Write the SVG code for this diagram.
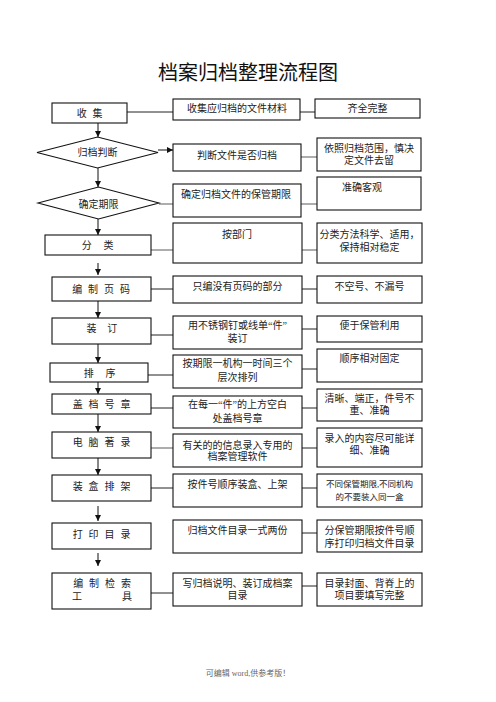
<svg xmlns="http://www.w3.org/2000/svg" width="496" height="702" viewBox="0 0 496 702">
<defs>
<marker id="ah" viewBox="0 0 6 6" refX="6" refY="3" markerWidth="6" markerHeight="6" orient="auto" markerUnits="userSpaceOnUse">
<path d="M0,0 L6,3 L0,6 Z" fill="#111"/>
</marker>
</defs>
<style>
text{font-family:"Liberation Serif","Noto Sans CJK SC",serif;fill:#222;text-anchor:middle}
.t{font-size:10px}
.s{font-size:8.5px}
.title{font-size:20px;fill:#111}
.lb{font-size:10px}
.box{fill:#fff;stroke:#111;stroke-width:1.1}
.ln{stroke:#222;stroke-width:1;fill:none}
.gr{stroke:#777;stroke-width:1.2;fill:none}
.ar{stroke:#111;stroke-width:1;fill:none;marker-end:url(#ah)}
.ft{font-size:8px;fill:#666}
</style>
<rect width="496" height="702" fill="#fff"/>
<text class="title" x="248" y="80">档案归档整理流程图</text>

<g id="connectors">
<line class="ar" x1="98" y1="123" x2="98" y2="137"/>
<line class="ar" x1="98" y1="168" x2="98" y2="187"/>
<line class="ar" x1="98" y1="219" x2="98" y2="235"/>
<line class="ar" x1="98" y1="263" x2="98" y2="275"/>
<line class="ar" x1="98" y1="301" x2="98" y2="318"/>
<line class="ar" x1="98" y1="344" x2="98" y2="363"/>
<line class="ar" x1="98" y1="382" x2="98" y2="394"/>
<line class="ar" x1="98" y1="414" x2="98" y2="432"/>
<line class="ar" x1="98" y1="458" x2="98" y2="475"/>
<line class="ar" x1="98" y1="506" x2="98" y2="521"/>
<line class="ar" x1="98" y1="553" x2="98" y2="566"/>
<line class="ar" x1="158" y1="150" x2="173" y2="150"/>
<line class="ln" x1="127" y1="112" x2="173" y2="112"/>
<line class="ln" x1="300" y1="112" x2="315" y2="112"/>
<line class="gr" x1="301" y1="157" x2="317" y2="157"/>
<line class="gr" x1="159" y1="204" x2="173" y2="204"/>
<line class="gr" x1="301" y1="204" x2="317" y2="204"/>
<line class="gr" x1="151" y1="250" x2="173" y2="250"/>
<line class="gr" x1="302" y1="250" x2="317" y2="250"/>
<line class="ln" x1="151" y1="289" x2="173" y2="289"/>
<line class="ln" x1="302" y1="289" x2="317" y2="289"/>
<line class="ln" x1="151" y1="335" x2="173" y2="335"/>
<line class="ln" x1="302" y1="329" x2="317" y2="329"/>
<line class="ln" x1="148" y1="375" x2="173" y2="375"/>
<line class="ln" x1="302" y1="369" x2="317" y2="369"/>
<line class="ln" x1="151" y1="408" x2="173" y2="408"/>
<line class="ln" x1="302" y1="408" x2="317" y2="408"/>
<line class="gr" x1="151" y1="448" x2="173" y2="448" stroke-width="2"/>
<line class="ln" x1="302" y1="448" x2="317" y2="448"/>
<line class="ln" x1="151" y1="488" x2="173" y2="488"/>
<line class="ln" x1="302" y1="488" x2="317" y2="488"/>
<line class="ln" x1="302" y1="533" x2="317" y2="533"/>
<line class="ln" x1="151" y1="593" x2="173" y2="593"/>
<line class="ln" x1="302" y1="586" x2="317" y2="586"/>
</g>

<g id="n1"><rect class="box" x="52" y="103" width="75" height="20"/><text class="lb" x="90.5" y="116.5" letter-spacing="1.75">收 集</text></g>
<g id="n1b"><rect class="box" x="173" y="99" width="127" height="21"/><text class="t" x="237" y="111.8">收集应归档的文件材料</text></g>
<g id="n1c"><rect class="box" x="315" y="99" width="105" height="19"/><text class="t" x="367.5" y="111.8">齐全完整</text></g>

<g id="n2"><polygon class="box" points="37,152.5 97.5,137 158,152.5 97.5,168"/><text class="t" x="97.5" y="156">归档判断</text></g>
<g id="n2b"><rect class="box" x="173" y="144" width="128" height="27"/><text class="t" x="237" y="158.8">判断文件是否归档</text></g>
<g id="n2c"><rect class="box" x="317" y="138" width="104" height="33"/><text class="t" x="369" y="151.8">依照归档范围，慎决</text><text class="t" x="369" y="163.8">定文件去留</text></g>

<g id="n3"><polygon class="box" points="38,203 98.5,187 159,203 98.5,219"/><text class="t" x="98.5" y="207.5">确定期限</text></g>
<g id="n3b"><rect class="box" x="173" y="184" width="128" height="33"/><text class="t" x="236" y="197.8">确定归档文件的保管期限</text></g>
<g id="n3c"><rect class="box" x="317" y="177" width="104" height="33"/><text class="t" x="362" y="190.8">准确客观</text></g>

<g id="n4"><rect class="box" x="45" y="235" width="106" height="20"/><text class="lb" x="100" y="248.5" letter-spacing="4.75">分 类</text></g>
<g id="n4b"><rect class="box" x="173" y="223" width="129" height="40"/><text class="t" x="237" y="237.8">按部门</text></g>
<g id="n4c"><rect class="box" x="317" y="223" width="105" height="40"/><text class="t" x="369.5" y="237.8">分类方法科学、适用，</text><text class="t" x="369.5" y="250.8">保持相对稳定</text></g>

<g id="n5"><rect class="box" x="52" y="277" width="99" height="24"/><text class="lb" x="102" y="292.5" letter-spacing="1.75">编 制 页 码</text></g>
<g id="n5b"><rect class="box" x="173" y="276" width="129" height="27"/><text class="t" x="237.5" y="289.8">只编没有页码的部分</text></g>
<g id="n5c"><rect class="box" x="317" y="276" width="105" height="27"/><text class="t" x="369.5" y="289.8">不空号、不漏号</text></g>

<g id="n6"><rect class="box" x="52" y="318" width="99" height="26"/><text class="lb" x="104" y="331.5" letter-spacing="4.25">装 订</text></g>
<g id="n6b"><rect class="box" x="173" y="316" width="129" height="33"/><text class="t" x="237.5" y="328.8">用不锈钢钉或线单“件”</text><text class="t" x="237.5" y="341.8">装订</text></g>
<g id="n6c"><rect class="box" x="317" y="316" width="105" height="26"/><text class="t" x="369.5" y="328.8">便于保管利用</text></g>

<g id="n7"><rect class="box" x="50" y="363" width="98" height="19"/><text class="lb" x="102" y="376.5" letter-spacing="4.75">排 序</text></g>
<g id="n7b"><rect class="box" x="173" y="355" width="129" height="33"/><text class="t" x="237.5" y="366.8">按期限一机构一时间三个</text><text class="t" x="237.5" y="380.8">层次排列</text></g>
<g id="n7c"><rect class="box" x="317" y="349" width="105" height="33"/><text class="t" x="369.5" y="361.8">顺序相对固定</text></g>

<g id="n8"><rect class="box" x="52" y="394" width="99" height="20"/><text class="lb" x="102.5" y="407.5" letter-spacing="1.75">盖 档 号 章</text></g>
<g id="n8b"><rect class="box" x="173" y="396" width="129" height="32"/><text class="t" x="237.5" y="407.8">在每一“件”的上方空白</text><text class="t" x="237.5" y="421.8">处盖档号章</text></g>
<g id="n8c"><rect class="box" x="317" y="389" width="105" height="32"/><text class="t" x="369.5" y="401.8">清晰、端正，件号不</text><text class="t" x="369.5" y="413.8">重、准确</text></g>

<g id="n9"><rect class="box" x="52" y="432" width="99" height="26"/><text class="lb" x="102.5" y="445.5" letter-spacing="1.75">电 脑 著 录</text></g>
<g id="n9b"><rect class="box" x="173" y="434" width="129" height="33"/><text class="t" x="237.5" y="448.8">有关的的信息录入专用的</text><text class="t" x="237.5" y="459.8">档案管理软件</text></g>
<g id="n9c"><rect class="box" x="317" y="428" width="105" height="39"/><text class="t" x="369.5" y="441.8">录入的内容尽可能详</text><text class="t" x="369.5" y="453.8">细、准确</text></g>

<g id="n10"><rect class="box" x="52" y="475" width="99" height="26"/><text class="lb" x="102.5" y="489.5" letter-spacing="1.75">装 盒 排 架</text></g>
<g id="n10b"><rect class="box" x="173" y="474" width="129" height="33"/><text class="t" x="237.5" y="487.8">按件号顺序装盒、上架</text></g>
<g id="n10c"><rect class="box" x="317" y="474" width="105" height="33"/><text class="s" x="369.5" y="487.3">不同保管期限,不同机构</text><text class="s" x="369.5" y="500.3">的不要装入同一盒</text></g>

<g id="n11"><rect class="box" x="52" y="523" width="99" height="26"/><text class="lb" x="102.5" y="537.5" letter-spacing="1.75">打 印 目 录</text></g>
<g id="n11b"><rect class="box" x="173" y="520" width="129" height="33"/><text class="t" x="237.5" y="533.8">归档文件目录一式两份</text></g>
<g id="n11c"><rect class="box" x="317" y="520" width="105" height="32"/><text class="t" x="369.5" y="533.8">分保管期限按件号顺</text><text class="t" x="369.5" y="546.8">序打印归档文件目录</text></g>

<g id="n12"><rect class="box" x="52" y="573" width="99" height="36"/><text class="lb" x="103" y="586.5" letter-spacing="1.75">编 制 检 索</text><text class="lb" x="102" y="599.5">工　　　　具</text></g>
<g id="n12b"><rect class="box" x="173" y="573" width="129" height="33"/><text class="t" x="237.5" y="586.8">写归档说明、装订成档案</text><text class="t" x="237.5" y="598.8">目录</text></g>
<g id="n12c"><rect class="box" x="317" y="573" width="105" height="33"/><text class="t" x="369.5" y="586.8">目录封面、背脊上的</text><text class="t" x="369.5" y="598.8">项目要填写完整</text></g>

<text class="ft" x="248" y="676">可编辑 word,供参考版！</text>
</svg>
